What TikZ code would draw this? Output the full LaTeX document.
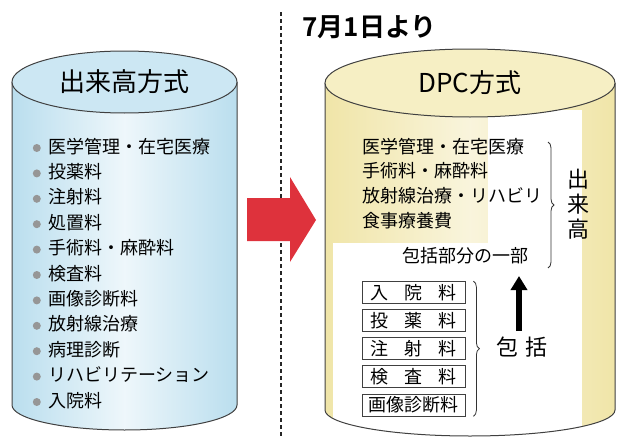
\documentclass[tikz,border=0pt]{standalone}
\usepackage{fontspec}
\setmainfont{Noto Sans CJK JP}[BoldFont={Noto Sans CJK JP Bold}]
\usetikzlibrary{arrows.meta,positioning,decorations.pathreplacing}

\definecolor{cylblue}{RGB}{186,222,238}
\definecolor{cyltopblue}{RGB}{204,231,243}
\definecolor{cylyellow}{RGB}{240,229,168}
\definecolor{cyltopyellow}{RGB}{246,239,196}
\definecolor{arrowred}{RGB}{222,50,60}
\definecolor{dotgray}{RGB}{150,150,150}

\newcommand{\spreadtext}[1]{\makebox[86pt][s]{#1}}

\tikzset{
  item/.style={anchor=west, inner sep=0pt, text height=14pt, text depth=4pt, font=\fontsize{18}{20}\selectfont},
  dotitem/.style={item, label={[circle, fill=dotgray, minimum size=8pt, inner sep=0pt, label distance=7pt]left:{}}},
  feebox/.style={draw=black!75, line width=0.8pt, fill=white, minimum width=103pt, minimum height=22pt, inner sep=0pt, font=\fontsize{18}{20}\selectfont},
  outline/.style={draw=black!75, line width=1pt},
  bracket/.style={draw=black!80, line width=0.8pt, decorate, decoration={brace, amplitude=6pt}}
}

\begin{document}
\begin{tikzpicture}[x=1pt, y=-1pt]
  \useasboundingbox (0,0) rectangle (619,439);

  % left cylinder
  \path[left color=cylblue, right color=cylblue, middle color=cylblue!25] (12,82) -- (12,405) arc[start angle=180, end angle=360, x radius=112.5pt, y radius=25pt] -- (237,82) -- cycle;
  \draw[outline] (12,82) -- (12,405) arc[start angle=180, end angle=360, x radius=112.5pt, y radius=25pt] -- (237,82);
  \draw[outline, fill=cyltopblue] (124.5,82) ellipse[x radius=112.5pt, y radius=31pt];
  \node[font=\fontsize{26}{28}\selectfont] (ltitle) at (124.5,82) {出来高方式};

  % right cylinder
  \path[left color=cylyellow, right color=cylyellow, middle color=cylyellow!40] (325,83) -- (325,410) arc[start angle=180, end angle=360, x radius=145pt, y radius=26pt] -- (615,83) -- cycle;
  \begin{scope}
    \clip (325,83) -- (325,410) arc[start angle=180, end angle=360, x radius=145pt, y radius=26pt] -- (615,83) -- cycle;
    \fill[white] (488,110) rectangle (582,440);
    \fill[white] (333,243) rectangle (488,440);
  \end{scope}
  \draw[outline] (325,83) -- (325,410) arc[start angle=180, end angle=360, x radius=145pt, y radius=26pt] -- (615,83);
  \draw[outline, fill=cyltopyellow] (470,83) ellipse[x radius=145pt, y radius=34pt];
  \node[font=\fontsize{26}{28}\selectfont] (rtitle) at (470,83) {DPC方式};

  % divider and arrow
  \draw[black!85, line width=1.5pt, dash pattern=on 4pt off 3pt] (281,12) -- (281,439);
  \fill[arrowred] (247,198) -- (290,198) -- (290,177) -- (316,220) -- (290,262) -- (290,241) -- (247,241) -- cycle;
  \node[anchor=west, font=\bfseries\fontsize{26}{28}\selectfont] (date) at (299,27) {7月1日より};

  % old items
  \node[dotitem] (l1) at (48,148) {医学管理・在宅医療};
  \node[dotitem, below=7pt of l1.south west, anchor=north west] (l2) {投薬料};
  \node[dotitem, below=7pt of l2.south west, anchor=north west] (l3) {注射料};
  \node[dotitem, below=7pt of l3.south west, anchor=north west] (l4) {処置料};
  \node[dotitem, below=7pt of l4.south west, anchor=north west] (l5) {手術料・麻酔料};
  \node[dotitem, below=7pt of l5.south west, anchor=north west] (l6) {検査料};
  \node[dotitem, below=7pt of l6.south west, anchor=north west] (l7) {画像診断料};
  \node[dotitem, below=7pt of l7.south west, anchor=north west] (l8) {放射線治療};
  \node[dotitem, below=7pt of l8.south west, anchor=north west] (l9) {病理診断};
  \node[dotitem, below=7pt of l9.south west, anchor=north west] (l10) {リハビリテーション};
  \node[dotitem, below=7pt of l10.south west, anchor=north west] (l11) {入院料};

  % DPC items
  \node[item] (r1) at (362,148) {医学管理・在宅医療};
  \node[item, below=6.5pt of r1.south west, anchor=north west] (r2) {手術料・麻酔料};
  \node[item, below=6.5pt of r2.south west, anchor=north west] (r3) {放射線治療・リハビリ};
  \node[item, below=6.5pt of r3.south west, anchor=north west] (r4) {食事療養費};
  \node[item, anchor=center] (part) at (465,257) {包括部分の一部};
  \node[font=\fontsize{22}{25}\selectfont, align=center] (dekidaka) at (578,204) {出\\来\\高};

  \node[feebox] (b1) at (413.5,292.5) {\spreadtext{入\hfill 院\hfill 料}};
  \node[feebox, below=5.3pt of b1] (b2) {\spreadtext{投\hfill 薬\hfill 料}};
  \node[feebox, below=5.3pt of b2] (b3) {\spreadtext{注\hfill 射\hfill 料}};
  \node[feebox, below=5.3pt of b3] (b4) {\spreadtext{検\hfill 査\hfill 料}};
  \node[feebox, below=5.3pt of b4] (b5) {画像診断料};
  \node[font=\fontsize{22}{25}\selectfont] (hokatsu) at (522,347) {包\,\,括};

  \draw[bracket] (548,142) -- (548,268);
  \draw[bracket] ([xshift=8pt]b1.north east) -- ([xshift=8pt]b5.south east);
  \coordinate (upfrom) at (519,331);
  \coordinate (upto) at (519,276);
  \draw[line width=6pt, -{Triangle[width=16pt, length=14pt]}] (upfrom) -- (upto);
\end{tikzpicture}
\end{document}
